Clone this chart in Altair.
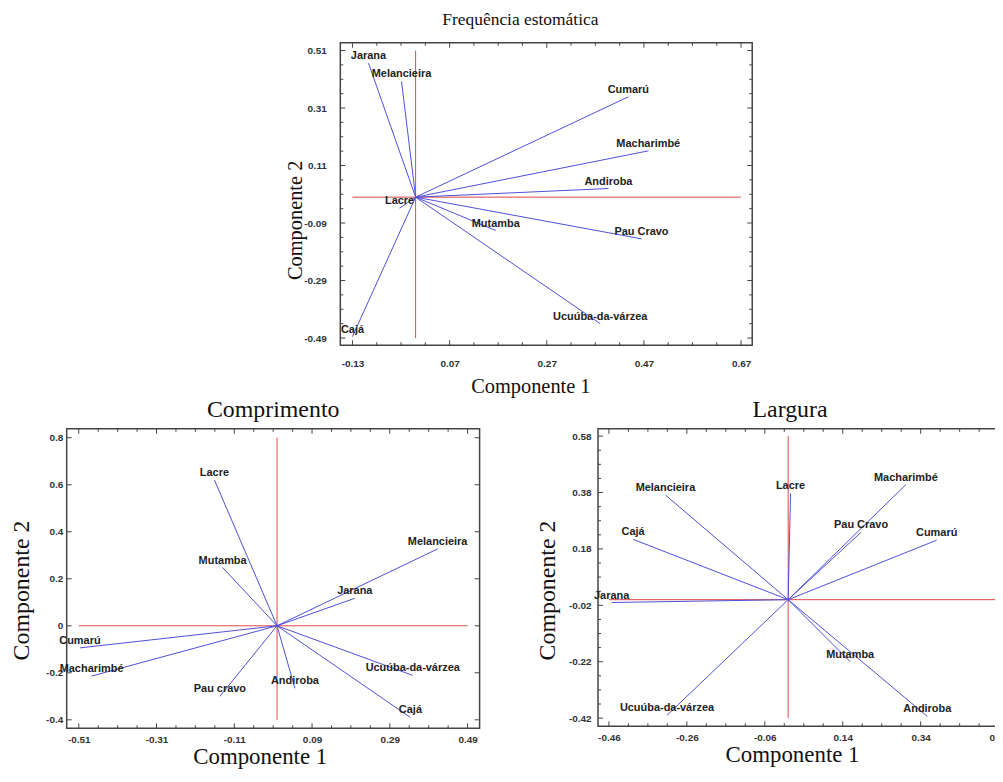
import altair as alt
import pandas as pd

# ---------------- Frequência estomática ----------------
fe_species = ["Jarana", "Melancieira", "Cumarú", "Macharimbé", "Andiroba", "Lacre",
              "Mutamba", "Pau Cravo", "Ucuúba-da-várzea", "Cajá"]
fe_pc1 = [-0.097, -0.029, 0.438, 0.479, 0.397, -0.033, 0.165, 0.465, 0.380, -0.130]
fe_pc2 = [0.466, 0.403, 0.349, 0.161, 0.030, -0.038, -0.116, -0.145, -0.440, -0.485]
fe_xticks = [-0.13, 0.07, 0.27, 0.47, 0.67]
fe_yticks = [-0.49, -0.29, -0.09, 0.11, 0.31, 0.51]

# ---------------- Comprimento ----------------
co_species = ["Lacre", "Mutamba", "Melancieira", "Jarana", "Cumarú", "Macharimbé",
              "Pau cravo", "Andiroba", "Ucuúba-da-várzea", "Cajá"]
co_pc1 = [-0.161, -0.140, 0.413, 0.200, -0.507, -0.477, -0.147, 0.046, 0.349, 0.343]
co_pc2 = [0.620, 0.248, 0.327, 0.117, -0.094, -0.214, -0.300, -0.266, -0.211, -0.390]
co_xticks = [-0.51, -0.31, -0.11, 0.09, 0.29, 0.49]
co_yticks = [-0.4, -0.2, 0.0, 0.2, 0.4, 0.6, 0.8]

# ---------------- Largura ----------------
la_species = ["Melancieira", "Lacre", "Macharimbé", "Pau Cravo", "Cumarú", "Cajá",
              "Jarana", "Mutamba", "Andiroba", "Ucuúba-da-várzea"]
la_pc1 = [-0.315, 0.006, 0.302, 0.187, 0.381, -0.398, -0.453, 0.159, 0.357, -0.311]
la_pc2 = [0.371, 0.377, 0.408, 0.239, 0.211, 0.214, -0.010, -0.220, -0.414, -0.410]
la_xticks = [-0.46, -0.26, -0.06, 0.14, 0.34, 0.54]
la_yticks = [-0.42, -0.22, -0.02, 0.18, 0.38, 0.58]

SANS = "Liberation Sans"
SERIF = "Liberation Serif"
BLUE = "#4f4fd8"
RED = "#e04848"
FRAME = "#444444"


def subdivide(major, n):
    out = []
    for a, b in zip(major[:-1], major[1:]):
        for k in range(1, n):
            out.append(round(a + (b - a) * k / n, 4))
    return out


def fmt_expr(spec):
    return "replace(format(datum.value, '%s'), '\u2212', '-')" % spec


def panel(species, pc1, pc2, title, xdom, ydom, xmajor, ymajor, xsub, ysub, w, h,
          xfmt, yfmt, title_size, title_offset, title_dx, xt_size, yt_size,
          xlabpad, xtitpad, ylabpad, ytitpad, xtitle_x, ytitle_y):
    vec = pd.DataFrame({"sp": species, "pc1": pc1, "pc2": pc2, "o": [0.0] * len(species)})
    xs = alt.Scale(domain=xdom, nice=False, zero=False)
    ys = alt.Scale(domain=ydom, nice=False, zero=False)
    xaxis = alt.Axis(values=xmajor, ticks=False, domain=False, grid=False,
                     labelExpr=fmt_expr(xfmt), labelFont=SANS, labelFontWeight="bold",
                     labelFontSize=10, labelColor="#333333", labelPadding=xlabpad,
                     title="Componente 1", titleFont=SERIF, titleFontSize=xt_size,
                     titleFontWeight="normal", titleColor="#111111", titlePadding=xtitpad,
                     titleX=xtitle_x)
    yaxis = alt.Axis(values=ymajor, ticks=False, domain=False, grid=False,
                     labelExpr=fmt_expr(yfmt), labelFont=SANS, labelFontWeight="bold",
                     labelFontSize=10, labelColor="#333333", labelPadding=ylabpad,
                     title="Componente 2", titleFont=SERIF, titleFontSize=yt_size,
                     titleFontWeight="normal", titleColor="#111111", titlePadding=ytitpad,
                     titleY=ytitle_y)

    def X(f):
        return alt.X(f, scale=xs, axis=xaxis)

    def Y(f):
        return alt.Y(f, scale=ys, axis=yaxis)

    def XD(v):
        return alt.XDatum(v, scale=xs, axis=xaxis, type="quantitative")

    def YD(v):
        return alt.YDatum(v, scale=ys, axis=yaxis, type="quantitative")

    ref = pd.DataFrame({"x": [xmajor[0], 0.0], "x2": [xmajor[-1], 0.0],
                        "y": [0.0, ymajor[0]], "y2": [0.0, ymajor[-1]]})
    ref_lines = alt.Chart(ref).mark_rule(color=RED, strokeWidth=1).encode(
        x=X("x:Q"), x2="x2:Q", y=Y("y:Q"), y2="y2:Q")

    base = alt.Chart(vec)
    vectors = base.mark_rule(color=BLUE, strokeWidth=1).encode(
        x=X("o:Q"), x2="pc1:Q", y=Y("o:Q"), y2="pc2:Q")
    labels = base.mark_text(font=SANS, fontWeight="bold", fontSize=11, color="#222222",
                            align="center", baseline="middle", dy=-7).encode(
        x=X("pc1:Q"), y=Y("pc2:Q"), text="sp:N")

    def ticks(vals, length, which):
        c = alt.Chart(pd.DataFrame({"v": vals}))
        if which == "x":
            return [
                c.mark_rule(color=FRAME, strokeWidth=1, y2Offset=-length).encode(
                    x=X("v:Q"), y=YD(ydom[0]), y2=alt.Y2Datum(ydom[0])),
                c.mark_rule(color=FRAME, strokeWidth=1, y2Offset=length).encode(
                    x=X("v:Q"), y=YD(ydom[1]), y2=alt.Y2Datum(ydom[1])),
            ]
        return [
            c.mark_rule(color=FRAME, strokeWidth=1, x2Offset=length).encode(
                y=Y("v:Q"), x=XD(xdom[0]), x2=alt.X2Datum(xdom[0])),
            c.mark_rule(color=FRAME, strokeWidth=1, x2Offset=-length).encode(
                y=Y("v:Q"), x=XD(xdom[1]), x2=alt.X2Datum(xdom[1])),
        ]

    layers = [ref_lines, vectors]
    layers += ticks(xmajor, 5, "x")
    layers += ticks(ymajor, 5, "y")
    if xsub:
        layers += ticks(subdivide(xmajor, xsub), 3, "x")
    if ysub:
        layers += ticks(subdivide(ymajor, ysub), 3, "y")
    layers.append(labels)

    return alt.layer(*layers).properties(
        width=w, height=h,
        title=alt.TitleParams(title, font=SERIF, fontSize=title_size, fontWeight="normal",
                              color="#111111", offset=title_offset, dx=title_dx))


top = panel(fe_species, fe_pc1, fe_pc2, "Frequência estomática",
            [-0.155, 0.693], [-0.515, 0.537], fe_xticks, fe_yticks, 4, 4, 414, 304,
            ".2f", ".2f", 17.5, 14, -26, 20.5, 20.5, 13, 9, 14, -2, 191, 178)
left = panel(co_species, co_pc1, co_pc2, "Comprimento",
             [-0.541, 0.521], [-0.436, 0.838], co_xticks, co_yticks, 4, 0, 415, 301,
             ".2f", ".1~f", 24, 6, 0, 23, 24, 6, 1, 4, 12, 194, 162)
right = panel(la_species, la_pc1, la_pc2, "Largura",
              [-0.488, 0.569], [-0.449, 0.606], la_xticks, la_yticks, 4, 4, 414, 299,
              ".2f", ".2f", 24, 6, -14, 23, 24, 6, 1, 7, 9, 195, 162)

spacer = alt.Chart(pd.DataFrame({"a": [0]})).mark_point(opacity=0).encode(
    x=alt.value(0), y=alt.value(0)
).properties(width=219, height=10, view=alt.ViewBackground(strokeOpacity=0))

top_row = alt.hconcat(spacer, top, spacing=0)
bottom_row = alt.hconcat(left, right, spacing=53)

chart = alt.vconcat(top_row, bottom_row, spacing=-2).properties(
    padding={"left": 1, "top": 0, "right": -17, "bottom": 0}
).configure_view(stroke=FRAME, strokeWidth=1.5)

chart.save("out.html", embed_options={"renderer": "svg", "actions": False})
